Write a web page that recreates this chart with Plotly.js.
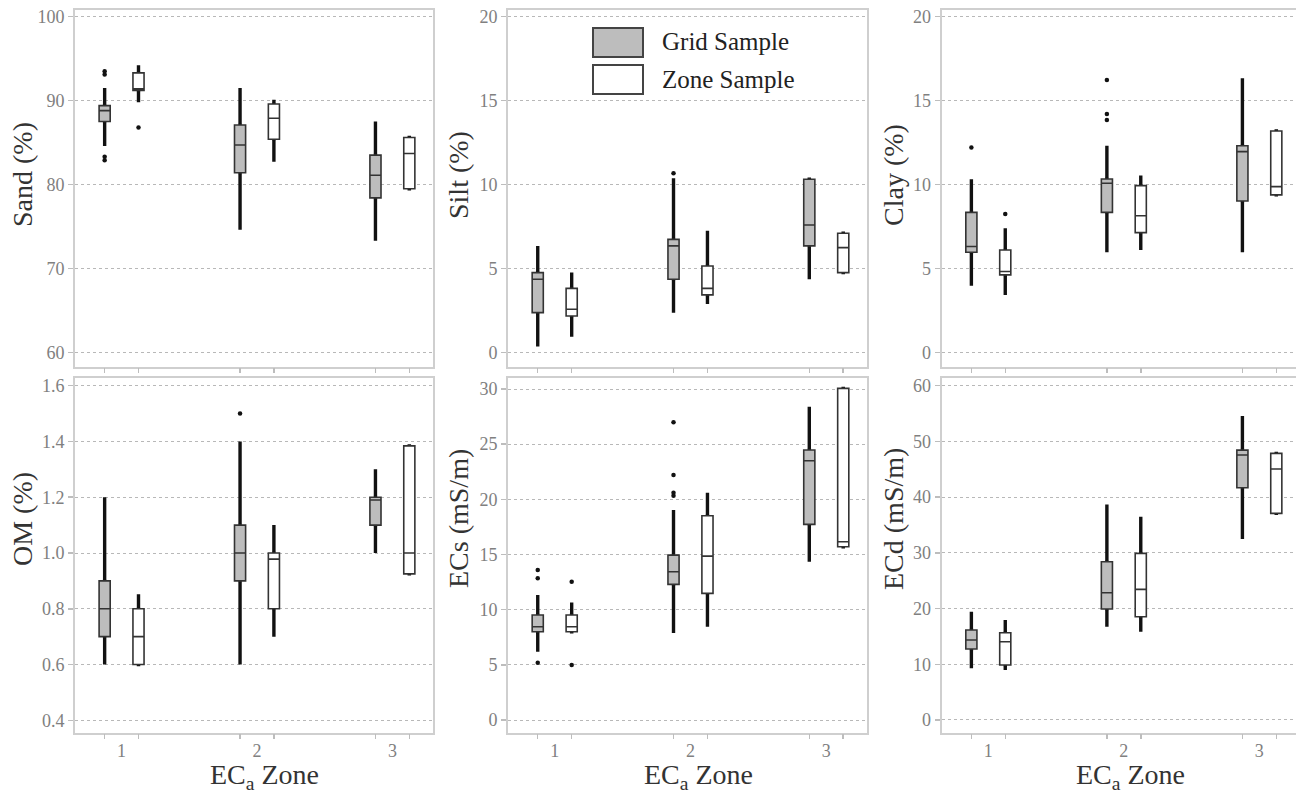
<!DOCTYPE html>
<html>
<head>
<meta charset="utf-8">
<script src="https://cdn.plot.ly/plotly-3.0.1.min.js"></script>
<style>
  html, body { margin: 0; padding: 0; overflow: hidden; background: #fff; }
  #chart { width: 1300px; height: 794px; }
</style>
</head>
<body>
<div id="chart"></div>
<script>
// ---------------- DATA ----------------
const zones = [1, 2, 3];
const zoneLabels = ['1', '2', '3'];

// Sand (%)
const sandGridLo  = [84.6, 74.6, 73.3];
const sandGridQ1  = [87.5, 81.4, 78.4];
const sandGridMed = [88.8, 84.7, 81.1];
const sandGridQ3  = [89.4, 87.1, 83.5];
const sandGridHi  = [91.5, 91.5, 87.5];
const sandGridOutZone = [1, 1, 1, 1];
const sandGridOut     = [93.5, 93.1, 83.3, 82.9];
const sandZoneLo  = [89.8, 82.7, 79.5];
const sandZoneQ1  = [91.2, 85.4, 79.5];
const sandZoneMed = [91.4, 87.9, 83.7];
const sandZoneQ3  = [93.3, 89.6, 85.6];
const sandZoneHi  = [94.2, 90.1, 85.6];
const sandZoneOutZone = [1];
const sandZoneOut     = [86.8];

// Silt (%)
const siltGridLo  = [0.34, 2.36, 4.35];
const siltGridQ1  = [2.36, 4.35, 6.34];
const siltGridMed = [4.35, 6.34, 7.59];
const siltGridQ3  = [4.75, 6.73, 10.31];
const siltGridHi  = [6.34, 10.37, 10.31];
const siltGridOutZone = [2];
const siltGridOut     = [10.67];
const siltZoneLo  = [0.93, 2.88, 4.75];
const siltZoneQ1  = [2.16, 3.42, 4.75];
const siltZoneMed = [2.56, 3.81, 6.24];
const siltZoneQ3  = [3.81, 5.14, 7.09];
const siltZoneHi  = [4.75, 7.25, 7.09];
const siltZoneOutZone = [];
const siltZoneOut     = [];

// Clay (%)
const clayGridLo  = [3.97, 5.96, 5.96];
const clayGridQ1  = [5.96, 8.34, 9.02];
const clayGridMed = [6.30, 10.07, 11.96];
const clayGridQ3  = [8.34, 10.33, 12.31];
const clayGridHi  = [10.31, 12.31, 16.33];
const clayGridOutZone = [1, 2, 2, 2];
const clayGridOut     = [12.21, 16.23, 14.2, 13.84];
const clayZoneLo  = [3.42, 6.10, 9.38];
const clayZoneQ1  = [4.61, 7.13, 9.38];
const clayZoneMed = [4.81, 8.14, 9.87];
const clayZoneQ3  = [6.10, 9.93, 13.19];
const clayZoneHi  = [7.39, 10.53, 13.19];
const clayZoneOutZone = [1];
const clayZoneOut     = [8.24];

// OM (%)
const omGridLo  = [0.6, 0.6, 1.0];
const omGridQ1  = [0.7, 0.9, 1.1];
const omGridMed = [0.8, 1.0, 1.19];
const omGridQ3  = [0.9, 1.1, 1.2];
const omGridHi  = [1.2, 1.4, 1.3];
const omGridOutZone = [2];
const omGridOut     = [1.5];
const omZoneLo  = [0.6, 0.7, 0.925];
const omZoneQ1  = [0.6, 0.8, 0.925];
const omZoneMed = [0.7, 0.978, 1.0];
const omZoneQ3  = [0.8, 1.0, 1.384];
const omZoneHi  = [0.852, 1.1, 1.384];
const omZoneOutZone = [];
const omZoneOut     = [];

// ECs (mS/m)
const ecsGridLo  = [6.19, 7.9, 14.35];
const ecsGridQ1  = [8.0, 12.3, 17.73];
const ecsGridMed = [8.46, 13.44, 23.5];
const ecsGridQ3  = [9.52, 14.95, 24.47];
const ecsGridHi  = [11.33, 19.03, 28.4];
const ecsGridOutZone = [1, 1, 1, 2, 2, 2, 2];
const ecsGridOut     = [13.6, 12.84, 5.2, 26.98, 22.2, 20.6, 20.33];
const ecsZoneLo  = [8.0, 8.46, 15.71];
const ecsZoneQ1  = [8.0, 11.48, 15.71];
const ecsZoneMed = [8.46, 14.86, 16.16];
const ecsZoneQ3  = [9.52, 18.52, 30.06];
const ecsZoneHi  = [10.66, 20.6, 30.06];
const ecsZoneOutZone = [1, 1];
const ecsZoneOut     = [12.54, 4.98];

// ECd (mS/m)
const ecdGridLo  = [9.27, 16.75, 32.48];
const ecdGridQ1  = [12.74, 19.92, 41.69];
const ecdGridMed = [14.35, 22.85, 47.55];
const ecdGridQ3  = [16.15, 28.41, 48.44];
const ecdGridHi  = [19.44, 38.7, 54.55];
const ecdGridOutZone = [];
const ecdGridOut     = [];
const ecdZoneLo  = [8.97, 15.85, 37.08];
const ecdZoneQ1  = [9.87, 18.54, 37.08];
const ecdZoneMed = [14.05, 23.44, 45.04];
const ecdZoneQ3  = [15.67, 29.9, 47.85];
const ecdZoneHi  = [17.94, 36.48, 47.85];
const ecdZoneOutZone = [];
const ecdZoneOut     = [];

const panelTitles = ['Sand (%)', 'Silt (%)', 'Clay (%)', 'OM (%)', 'ECs (mS/m)', 'ECd (mS/m)'];
const yTickVals = [
  [60, 70, 80, 90, 100],
  [0, 5, 10, 15, 20],
  [0, 5, 10, 15, 20],
  [0.4, 0.6, 0.8, 1.0, 1.2, 1.4, 1.6],
  [0, 5, 10, 15, 20, 25, 30],
  [0, 10, 20, 30, 40, 50, 60]
];
const legendLabels = ['Grid Sample', 'Zone Sample'];
const xTitle = 'EC<sub>a</sub> Zone';

// ---------------- STYLE / LAYOUT ----------------
const FONT = '"Liberation Serif", "Times New Roman", Times, serif';
const GRID_FILL = '#bdbdbd';
const OFF = 0.125;     // offset of each sample box from zone centre
const BOXW = 0.082;    // box width in data units
const W = 1300, H = 794;

const panels = [
  {grid:[sandGridLo,sandGridQ1,sandGridMed,sandGridQ3,sandGridHi], gOutZ:sandGridOutZone, gOut:sandGridOut,
   zone:[sandZoneLo,sandZoneQ1,sandZoneMed,sandZoneQ3,sandZoneHi], zOutZ:sandZoneOutZone, zOut:sandZoneOut, range:[58.28, 100.8], fmt:''},
  {grid:[siltGridLo,siltGridQ1,siltGridMed,siltGridQ3,siltGridHi], gOutZ:siltGridOutZone, gOut:siltGridOut,
   zone:[siltZoneLo,siltZoneQ1,siltZoneMed,siltZoneQ3,siltZoneHi], zOutZ:siltZoneOutZone, zOut:siltZoneOut, range:[-0.86, 20.4], fmt:''},
  {grid:[clayGridLo,clayGridQ1,clayGridMed,clayGridQ3,clayGridHi], gOutZ:clayGridOutZone, gOut:clayGridOut,
   zone:[clayZoneLo,clayZoneQ1,clayZoneMed,clayZoneQ3,clayZoneHi], zOutZ:clayZoneOutZone, zOut:clayZoneOut, range:[-0.86, 20.4], fmt:''},
  {grid:[omGridLo,omGridQ1,omGridMed,omGridQ3,omGridHi], gOutZ:omGridOutZone, gOut:omGridOut,
   zone:[omZoneLo,omZoneQ1,omZoneMed,omZoneQ3,omZoneHi], zOutZ:omZoneOutZone, zOut:omZoneOut, range:[0.3534, 1.6265], fmt:'.1f'},
  {grid:[ecsGridLo,ecsGridQ1,ecsGridMed,ecsGridQ3,ecsGridHi], gOutZ:ecsGridOutZone, gOut:ecsGridOut,
   zone:[ecsZoneLo,ecsZoneQ1,ecsZoneMed,ecsZoneQ3,ecsZoneHi], zOutZ:ecsZoneOutZone, zOut:ecsZoneOut, range:[-1.2, 30.97], fmt:''},
  {grid:[ecdGridLo,ecdGridQ1,ecdGridMed,ecdGridQ3,ecdGridHi], gOutZ:ecdGridOutZone, gOut:ecdGridOut,
   zone:[ecdZoneLo,ecdZoneQ1,ecdZoneMed,ecdZoneQ3,ecdZoneHi], zOutZ:ecdZoneOutZone, zOut:ecdZoneOut, range:[-2.39, 61.33], fmt:''}
];

const colDom = [[75 / W, 433 / W], [508 / W, 867 / W], [941.7 / W, 1]];
const rowDom = [[1 - 366.7 / H, 1 - 10 / H], [1 - 733.3 / H, 1 - 378.3 / H]];
const XRANGE = [0.656, 3.30];
// title placement (px)
const yTitleX = [22, 458, 893];
const yTitleY = [175, 519];
const xTitleX = [264, 698, 1130];
const xTitleBottom = 795;

const traces = [];
const layout = {
  width: W, height: H,
  margin: {l: 0, r: 0, t: 0, b: 0},
  paper_bgcolor: '#fff', plot_bgcolor: '#fff',
  font: {family: FONT, color: '#333'},
  showlegend: false,
  shapes: [], annotations: []
};

function sampleTraces(stats, side, fill, xa, ya) {
  const [lo, q1, med, q3, hi] = stats;
  const pos = zones.map(z => z + side * OFF);
  // thick whiskers (drawn under the box)
  traces.push({
    type: 'box', x: pos, q1: q1, median: med, q3: q3, lowerfence: lo, upperfence: hi,
    width: 0.001, whiskerwidth: 0, boxpoints: false,
    line: {color: '#111', width: 3.4}, fillcolor: 'rgba(0,0,0,0)',
    xaxis: xa, yaxis: ya, hoverinfo: 'skip', showlegend: false
  });
  // the box itself
  traces.push({
    type: 'box', x: pos, q1: q1, median: med, q3: q3, lowerfence: q1, upperfence: q3,
    width: BOXW, whiskerwidth: 0, boxpoints: false,
    line: {color: '#333', width: 1.6}, fillcolor: fill,
    xaxis: xa, yaxis: ya, hoverinfo: 'skip', showlegend: false
  });
}

function outlierTrace(oz, ov, side, xa, ya) {
  if (!ov.length) return;
  traces.push({
    type: 'scatter', mode: 'markers', x: oz.map(z => z + side * OFF), y: ov,
    marker: {color: '#111', size: 4.5}, xaxis: xa, yaxis: ya,
    hoverinfo: 'skip', showlegend: false, cliponaxis: false
  });
}

panels.forEach((p, i) => {
  const n = i + 1;
  const row = i < 3 ? 0 : 1;
  const col = i % 3;
  const xa = 'x' + n, ya = 'y' + n;
  const tickAxN = n + 6;

  sampleTraces(p.grid, -1, GRID_FILL, xa, ya);
  sampleTraces(p.zone, +1, '#ffffff', xa, ya);
  outlierTrace(p.gOutZ, p.gOut, -1, xa, ya);
  outlierTrace(p.zOutZ, p.zOut, +1, xa, ya);

  layout['xaxis' + n] = {
    domain: colDom[col], anchor: ya, range: XRANGE, type: 'linear',
    tickmode: 'array', tickvals: zones, ticktext: zoneLabels,
    showticklabels: row === 1,
    ticks: '',
    tickfont: {family: FONT, size: 18, color: '#808080'},
    showgrid: false, zeroline: false,
    showline: true, linecolor: '#cfcfcf', linewidth: 2, mirror: true
  };

  // overlay axis carrying the tick marks at each box position
  layout['xaxis' + tickAxN] = {
    overlaying: xa, anchor: ya, range: XRANGE, type: 'linear', side: 'bottom',
    tickmode: 'array', tickvals: zones.flatMap(z => [z - OFF, z + OFF]),
    showticklabels: false, ticks: 'outside', ticklen: 5, tickwidth: 1.5, tickcolor: '#bdbdbd',
    showgrid: false, zeroline: false, showline: false
  };
  traces.push({type: 'scatter', x: [], y: [], xaxis: 'x' + tickAxN, yaxis: ya, showlegend: false, hoverinfo: 'skip'});

  layout['yaxis' + n] = {
    domain: rowDom[row], anchor: xa, range: p.range,
    tickmode: 'array', tickvals: yTickVals[i], tickformat: p.fmt,
    ticks: 'outside', ticklen: 5, tickwidth: 1.5, tickcolor: '#bdbdbd',
    tickfont: {family: FONT, size: 18, color: '#808080'},
    showgrid: true, gridcolor: '#b8b8b8', gridwidth: 1, griddash: 'dot',
    zeroline: false,
    showline: true, linecolor: '#cfcfcf', linewidth: 2, mirror: true
  };

  // y-axis title
  layout.annotations.push({
    xref: 'paper', yref: 'paper', x: yTitleX[col] / W, y: 1 - yTitleY[row] / H,
    xanchor: 'center', yanchor: 'middle', textangle: -90, showarrow: false,
    text: panelTitles[i], font: {family: FONT, size: 28, color: '#333'}
  });
  // x-axis title (bottom row only)
  if (row === 1) {
    layout.annotations.push({
      xref: 'paper', yref: 'paper', x: xTitleX[col] / W, y: 1 - xTitleBottom / H,
      xanchor: 'center', yanchor: 'bottom', showarrow: false, borderpad: 0,
      text: xTitle, font: {family: FONT, size: 28, color: '#333'}
    });
  }
});

// hand-drawn legend inside the Silt panel
const legFills = [GRID_FILL, '#ffffff'];
const legTop = [28, 65];
legendLabels.forEach((lab, k) => {
  layout.shapes.push({
    type: 'rect', xref: 'paper', yref: 'paper',
    x0: 593 / W, x1: 643 / W, y0: 1 - (legTop[k] + 29) / H, y1: 1 - legTop[k] / H,
    line: {color: '#444', width: 2}, fillcolor: legFills[k]
  });
  layout.annotations.push({
    xref: 'paper', yref: 'paper', x: 660 / W, y: 1 - (legTop[k] + 14) / H,
    xanchor: 'left', yanchor: 'middle', showarrow: false,
    text: lab, font: {family: FONT, size: 25, color: '#222'}
  });
});

Plotly.newPlot('chart', traces, layout, {staticPlot: true, displayModeBar: false});
</script>
</body>
</html>
